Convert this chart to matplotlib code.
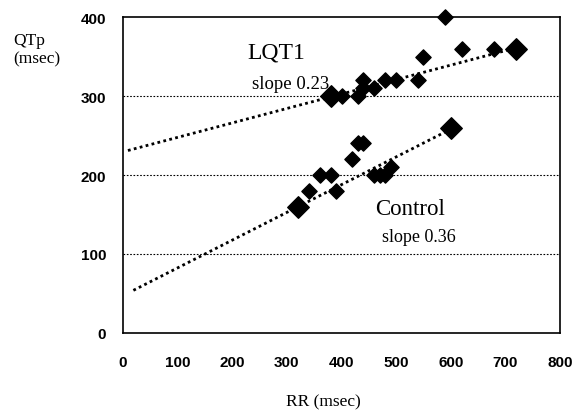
import matplotlib
matplotlib.use("Agg")
import matplotlib.pyplot as plt

# LQT1 group (RR, QTp) in msec
lqt1_rr = [400, 430, 440, 440, 460, 480, 500, 540, 550, 590, 620, 680]
lqt1_qtp = [300, 300, 320, 310, 310, 320, 320, 320, 350, 400, 360, 360]
lqt1_mean_rr = [380, 720]
lqt1_mean_qtp = [300, 360]
lqt1_fit_rr = [9, 709]
lqt1_fit_qtp = [231, 359]

# Control group
ctrl_rr = [340, 360, 380, 390, 420, 430, 440, 460, 470, 480, 490]
ctrl_qtp = [180, 200, 200, 180, 220, 240, 240, 200, 200, 200, 210]
ctrl_mean_rr = [320, 600]
ctrl_mean_qtp = [160, 260]
ctrl_fit_rr = [19, 600]
ctrl_fit_qtp = [54, 258]

x_ticks = [0, 100, 200, 300, 400, 500, 600, 700, 800]
y_ticks = [0, 100, 200, 300, 400]

serif = ["Liberation Serif", "DejaVu Serif"]
sans = ["Liberation Sans", "DejaVu Sans"]

fig = plt.figure(figsize=(5.76, 4.14), dpi=100)
ax = fig.add_axes([123 / 576, 80 / 414, 437 / 576, 316 / 414])

for y in [100, 200, 300]:
    ax.axhline(y, color="black", lw=0.8, ls=(0, (1.5, 1.5)), zorder=1)

ax.plot(lqt1_fit_rr, lqt1_fit_qtp, color="black", lw=2, ls=(0, (1, 1.2)), zorder=2)
ax.plot(ctrl_fit_rr, ctrl_fit_qtp, color="black", lw=2, ls=(0, (1, 1.2)), zorder=2)

ax.scatter(lqt1_rr, lqt1_qtp, marker="D", s=60, color="black", zorder=3, clip_on=False)
ax.scatter(ctrl_rr, ctrl_qtp, marker="D", s=60, color="black", zorder=3, clip_on=False)
ax.scatter(lqt1_mean_rr, lqt1_mean_qtp, marker="D", s=120, color="black", zorder=3)
ax.scatter(ctrl_mean_rr, ctrl_mean_qtp, marker="D", s=120, color="black", zorder=3)

ax.set_xlim(0, 800)
ax.set_ylim(0, 400)
ax.set_xticks(x_ticks)
ax.set_yticks(y_ticks)
ax.tick_params(axis="x", length=0, pad=16)
ax.tick_params(axis="y", length=0, pad=12)
for lab in ax.get_xticklabels() + ax.get_yticklabels():
    lab.set_fontfamily(sans)
    lab.set_fontweight("bold")
    lab.set_fontsize(11)
for sp in ax.spines.values():
    sp.set_linewidth(1.2)

ax.text(227, 349, "LQT1", fontsize=17, family=serif, va="baseline")
ax.text(236, 310, "slope 0.23", fontsize=13.5, family=serif, va="baseline")
ax.text(461, 151, "Control", fontsize=16.5, family=serif, va="baseline")
ax.text(474, 117, "slope 0.36", fontsize=13, family=serif, va="baseline")

fig.text(13 / 576, 1 - 45 / 414, "QTp", fontsize=12.5, family=serif, va="baseline")
fig.text(13 / 576, 1 - 63 / 414, "(msec)", fontsize=12.5, family=serif, va="baseline")
fig.text(323 / 576, 1 - 402 / 414, "RR (msec)", fontsize=12.5, family=serif,
         va="center", ha="center")

fig.savefig("out.png", dpi=100)
